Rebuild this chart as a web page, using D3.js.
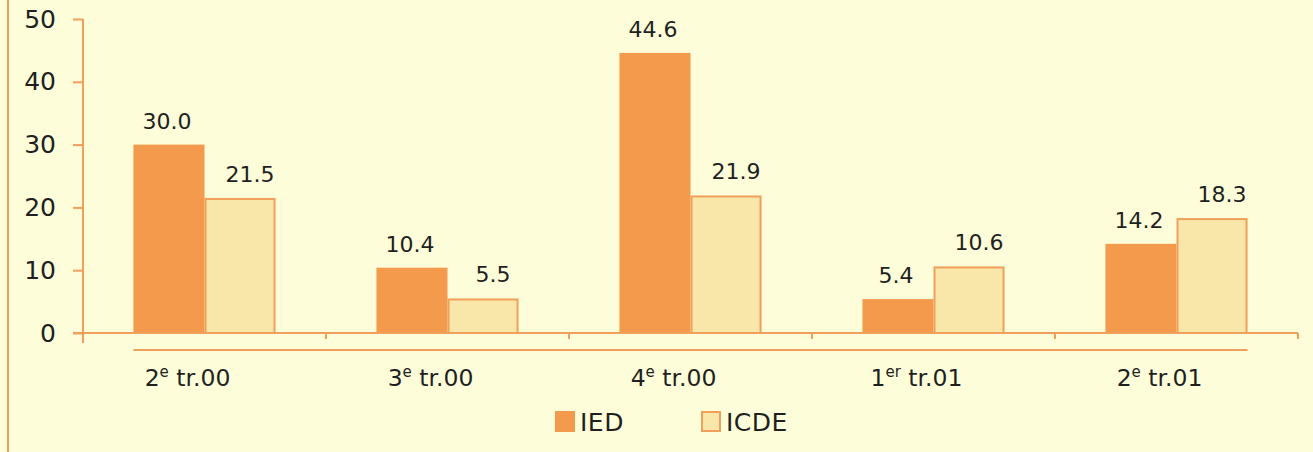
<!DOCTYPE html>
<html>
<head>
<meta charset="utf-8">
<script src="https://cdn.jsdelivr.net/npm/d3@7"></script>
<style>
  html, body { margin: 0; padding: 0; background: #fdfdd9; }
  svg { display: block; }
  text { font-family: "DejaVu Sans", Verdana, sans-serif; fill: #1f1f1f; }
</style>
</head>
<body>
<svg id="chart" width="1313" height="452"></svg>
<script>
// Quarter labels: base text and superscript ordinal
const quarterNum = ["2", "3", "4", "1", "2"];
const quarterSup = ["e", "e", "e", "er", "e"];
const quarterYear = ["tr.00", "tr.00", "tr.00", "tr.01", "tr.01"];
const seriesNames = ["IED", "ICDE"];
const iedValues = [30.0, 10.4, 44.6, 5.4, 14.2];
const icdeValues = [21.5, 5.5, 21.9, 10.6, 18.3];
const yTicks = [0, 10, 20, 30, 40, 50];

const W = 1313, H = 452;
const orange = "#f39a4c";
const lineCol = "#f0a05a";
const cream = "#f9e7a9";

const svg = d3.select("#chart");

// frame edge on the left
svg.append("line")
  .attr("x1", 8).attr("x2", 8).attr("y1", 0).attr("y2", H)
  .attr("stroke", lineCol).attr("stroke-width", 2);

const plotLeft = 83, plotRight = 1298, plotTop = 19, zeroY = 333;
const cats = d3.range(quarterNum.length);

const x0 = d3.scaleBand().domain(cats).range([plotLeft, plotRight]).paddingInner(0).paddingOuter(0);
const x1 = d3.scaleBand().domain(seriesNames).range([0, x0.bandwidth()]).paddingInner(0).paddingOuter(0.71);
const y = d3.scaleLinear().domain([0, 50]).range([zeroY, plotTop]);

const data = cats.map(i => ({ i, values: [
  { key: "IED", v: iedValues[i] },
  { key: "ICDE", v: icdeValues[i] }
]}));

// bars
const groups = svg.append("g").selectAll("g").data(data).join("g")
  .attr("transform", d => `translate(${x0(d.i)},0)`);

groups.selectAll("rect").data(d => d.values).join("rect")
  .attr("x", d => x1(d.key) + (d.key === "ICDE" ? 1 : 0))
  .attr("y", d => y(d.v) + (d.key === "ICDE" ? 1 : 0))
  .attr("width", d => x1.bandwidth() - (d.key === "ICDE" ? 2 : 0))
  .attr("height", d => y(0) - y(d.v) - (d.key === "ICDE" ? 1 : 0))
  .attr("fill", d => d.key === "IED" ? orange : cream)
  .attr("stroke", d => d.key === "IED" ? "none" : lineCol)
  .attr("stroke-width", 2);

// value labels
groups.selectAll("text.val").data(d => d.values).join("text")
  .attr("class", "val")
  .attr("x", d => x1(d.key) + x1.bandwidth() / 2 + (d.key === "ICDE" ? 10 : -2))
  .attr("y", d => y(d.v) - 16)
  .attr("text-anchor", "middle")
  .attr("font-size", 22)
  .text(d => d.v.toFixed(1));

// y axis
const yAxis = d3.axisLeft(y).tickValues(yTicks).tickSize(10).tickPadding(17).tickFormat(d3.format("d"));
const gy = svg.append("g").attr("transform", `translate(${plotLeft},0)`).call(yAxis);
gy.select(".domain").remove();
gy.selectAll(".tick line").attr("stroke", lineCol).attr("stroke-width", 2);
gy.selectAll(".tick text").attr("font-size", 25).attr("fill", "#1f1f1f")
  .attr("font-family", "DejaVu Sans, Verdana, sans-serif");
svg.append("line")
  .attr("x1", plotLeft).attr("x2", plotLeft).attr("y1", plotTop).attr("y2", zeroY + 10)
  .attr("stroke", lineCol).attr("stroke-width", 2);

// x baseline with category boundary ticks
svg.append("line")
  .attr("x1", plotLeft - 10).attr("x2", plotRight).attr("y1", zeroY).attr("y2", zeroY)
  .attr("stroke", lineCol).attr("stroke-width", 2);
svg.append("g").selectAll("line").data(cats.map(i => i + 1)).join("line")
  .attr("x1", i => x0(i - 1) + x0.step()).attr("x2", i => x0(i - 1) + x0.step())
  .attr("y1", zeroY).attr("y2", zeroY + 6)
  .attr("stroke", lineCol).attr("stroke-width", 2);

// rule under the baseline
svg.append("line")
  .attr("x1", x0(0) + x1("IED")).attr("x2", x0(cats.length - 1) + x1("ICDE") + x1.bandwidth())
  .attr("y1", 350).attr("y2", 350)
  .attr("stroke", lineCol).attr("stroke-width", 2);

// category labels
const labels = svg.append("g").selectAll("text").data(cats).join("text")
  .attr("x", i => x0(i) + x0.bandwidth() / 2 - 17)
  .attr("y", 386)
  .attr("text-anchor", "middle")
  .attr("font-size", 23.5);
labels.append("tspan").text(i => quarterNum[i]);
labels.append("tspan").attr("font-size", 15).attr("dy", -9).text(i => quarterSup[i]);
labels.append("tspan").attr("dy", 9).text(i => "\u00a0" + quarterYear[i]);

// legend
const legend = svg.append("g").selectAll("g").data(seriesNames).join("g")
  .attr("transform", (d, i) => `translate(${555 + i * 146},411)`);
legend.append("rect")
  .attr("x", d => d === "IED" ? 0 : 1).attr("y", d => d === "IED" ? 0 : 1)
  .attr("width", d => d === "IED" ? 20 : 18).attr("height", d => d === "IED" ? 21 : 19)
  .attr("fill", d => d === "IED" ? orange : cream)
  .attr("stroke", d => d === "IED" ? "none" : lineCol)
  .attr("stroke-width", 2);
legend.append("text")
  .attr("x", 25).attr("y", 20)
  .attr("font-size", 25)
  .attr("letter-spacing", 0.5)
  .text(d => d);
</script>
</body>
</html>
